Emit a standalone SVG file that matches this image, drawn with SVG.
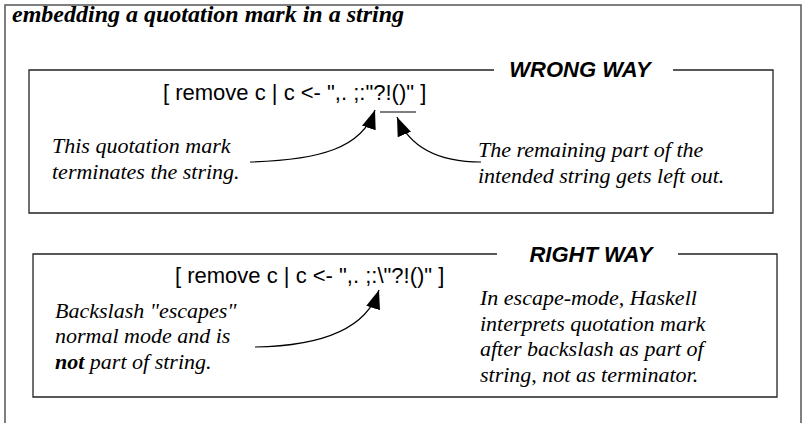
<svg xmlns="http://www.w3.org/2000/svg" width="804" height="423" viewBox="0 0 804 423">
<defs>
<marker id="ah" viewBox="0 0 10 10" refX="10" refY="5" markerWidth="19" markerHeight="19" markerUnits="userSpaceOnUse" orient="auto">
<path d="M0,1.2 L10,5 L0,8.8 z" fill="#000"/>
</marker>
<style>
.frame{fill:none;stroke:#555;stroke-width:1.5}
.box{fill:none;stroke:#222;stroke-width:1.3}
.title{font-family:"Liberation Serif",serif;font-weight:bold;font-style:italic;font-size:24px;fill:#000}
.code{font-family:"Liberation Sans",Arial,sans-serif;font-size:22px;fill:#000}
.lab{font-family:"Liberation Sans",Arial,sans-serif;font-weight:bold;font-style:italic;font-size:22px;fill:#000;text-anchor:middle}
.note{font-family:"Liberation Serif",serif;font-style:italic;font-size:22px;fill:#000}
.conn{fill:none;stroke:#000;stroke-width:1.2}
</style>
</defs>
<rect width="804" height="423" fill="#fff"/>
<path class="frame" d="M5,425 V5 H801 V425"/>
<text class="title" x="12" y="22">embedding a quotation mark in a string</text>

<g id="wrong-way">
<path class="box" d="M494,70 H29 V213 H773 V70 H673"/>
<text class="lab" x="580" y="77">WRONG WAY</text>
<text class="code" x="163" y="100">[ remove c | c &lt;- ",. ;:"?!()" ]</text>
<line x1="380" y1="112" x2="416" y2="112" stroke="#000" stroke-width="1.2"/>
<text class="note" x="52" y="153">This quotation mark</text>
<text class="note" x="52" y="179">terminates the string.</text>
<text class="note" x="478" y="157">The remaining part of the</text>
<text class="note" x="478" y="183">intended string gets left out.</text>
</g>

<g id="right-way">
<path class="box" d="M497,254 H33 V397 H777 V254 H678"/>
<text class="lab" x="591" y="262">RIGHT WAY</text>
<text class="code" x="175" y="283">[ remove c | c &lt;- ",. ;:\"?!()" ]</text>
<text class="note" x="55" y="318">Backslash "escapes"</text>
<text class="note" x="55" y="343">normal mode and is</text>
<text class="note" x="55" y="369"><tspan font-weight="bold">not</tspan> part of string.</text>
<text class="note" x="480" y="305">In escape-mode, Haskell</text>
<text class="note" x="480" y="331">interprets quotation mark</text>
<text class="note" x="480" y="356">after backslash as part of</text>
<text class="note" x="480" y="382">string, not as terminator.</text>
</g>

<g id="connectors">
<path class="conn" marker-end="url(#ah)" d="M250,162 C320,160 362,148 375,110"/>
<path class="conn" marker-end="url(#ah)" d="M481,162 C440,162 410,148 397,117"/>
<path class="conn" marker-end="url(#ah)" d="M255,347 C320,346 366,330 379,290"/>
</g>
</svg>
